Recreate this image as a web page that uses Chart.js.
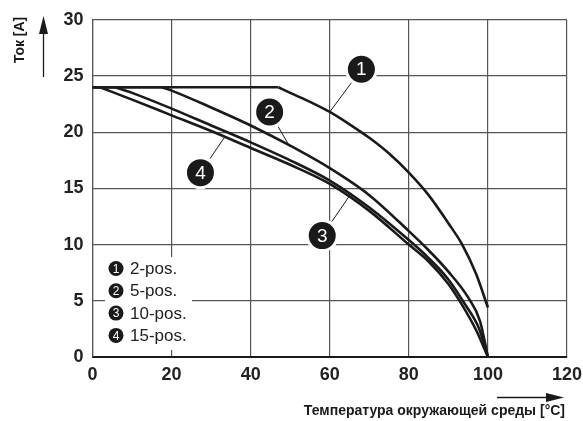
<!DOCTYPE html>
<html lang="ru">
<head>
<meta charset="UTF-8">
<title>Derating</title>
<script src="https://cdn.jsdelivr.net/npm/chart.js@4"></script>
<style>
    body { margin: 0; background: #fff; }
    #wrap { width: 583px; height: 421px; }
</style>
<script>
// curve 1: 2-pos.
var temp1 = [0, 47, 50, 55, 60, 65, 70, 75, 80, 85, 90, 93.5, 97, 100];
var amp1  = [24, 24, 23.5, 22.7, 21.8, 20.7, 19.5, 18.1, 16.4, 14.4, 11.9, 10.0, 7.4, 4.4];
// curve 2: 5-pos.
var temp2 = [0, 17.5, 20, 30, 40, 50, 60, 70, 80, 85, 90, 95, 98, 100];
var amp2  = [24, 24, 23.7, 22.2, 20.6, 18.8, 16.8, 14.4, 11.2, 9.5, 7.6, 5.3, 3.2, 0];
// curve 3: 10-pos.
var temp3 = [0, 5.7, 10, 20, 30, 40, 50, 60, 70, 80, 85, 90, 94, 97.8, 100];
var amp3  = [24, 24, 23.5, 22.1, 20.6, 19.1, 17.5, 15.7, 13.3, 10.4, 8.8, 6.9, 4.8, 2.5, 0];
// curve 4: 15-pos.
var temp4 = [0, 1.9, 10, 20, 30, 40, 50, 60, 70, 80, 85, 90, 93, 97, 100];
var amp4  = [24, 24, 22.9, 21.5, 20.1, 18.6, 17.1, 15.4, 13.0, 10.0, 8.5, 6.5, 4.9, 2.4, 0];

var legendNames = ['2-pos.', '5-pos.', '10-pos.', '15-pos.'];
var xTitle = 'Температура окружающей среды [°C]';
var yTitle = 'Ток [A]';

// numbered callouts, in data units: circle centre and point on the curve
var calloutAt = [[68.0, 25.6], [44.8, 21.8], [58.1, 10.8], [27.3, 16.4]];
var calloutTo = [[60, 21.8], [49.9, 18.7], [65.5, 14.6], [33.5, 19.6]];

function pts(xs, ys) {
    var out = [];
    for (var i = 0; i < xs.length; i++) out.push({x: xs[i], y: ys[i]});
    return out;
}

var FONT = '"Liberation Sans", Arial, Helvetica, sans-serif';
var INK = '#1a1a1a';

function badge(ctx, x, y, r, txt, size) {
    ctx.fillStyle = INK;
    ctx.beginPath();
    ctx.arc(x, y, r, 0, Math.PI * 2);
    ctx.fill();
    ctx.fillStyle = '#fff';
    ctx.font = size + 'px ' + FONT;
    ctx.textAlign = 'center';
    ctx.textBaseline = 'middle';
    ctx.fillText(txt, x, y + 1);
}

var extras = {
    id: 'extras',
    afterDatasetsDraw: function(chart) {
        var ctx = chart.ctx;
        var xs = chart.scales.x, ys = chart.scales.y;
        ctx.save();

        // callouts
        for (var i = 0; i < calloutAt.length; i++) {
            var cx = xs.getPixelForValue(calloutAt[i][0]);
            var cy = ys.getPixelForValue(calloutAt[i][1]);
            var tx = xs.getPixelForValue(calloutTo[i][0]);
            var ty = ys.getPixelForValue(calloutTo[i][1]);
            var d = Math.hypot(tx - cx, ty - cy);
            ctx.strokeStyle = INK;
            ctx.lineWidth = 1;
            ctx.beginPath();
            ctx.moveTo(cx + (tx - cx) * 17 / d, cy + (ty - cy) * 17 / d);
            ctx.lineTo(tx, ty);
            ctx.stroke();
            ctx.fillStyle = '#fff';
            ctx.beginPath();
            ctx.arc(cx, cy, 16.5, 0, Math.PI * 2);
            ctx.fill();
            badge(ctx, cx, cy, 13.5, String(i + 1), 19);
        }

        // legend box
        ctx.fillStyle = '#fff';
        ctx.fillRect(105, 257, 87, 93);
        for (var j = 0; j < legendNames.length; j++) {
            var ly = 268.5 + j * 22.3;
            badge(ctx, 116, ly, 7.5, String(j + 1), 12);
            ctx.fillStyle = '#222';
            ctx.font = '17px ' + FONT;
            ctx.textAlign = 'left';
            ctx.textBaseline = 'middle';
            ctx.fillText(legendNames[j], 130, ly + 1);
        }

        // axis titles and arrows
        ctx.fillStyle = INK;
        ctx.strokeStyle = INK;
        ctx.font = 'bold 14px ' + FONT;
        ctx.textAlign = 'right';
        ctx.textBaseline = 'middle';
        ctx.fillText(xTitle, 565, 411);
        ctx.lineWidth = 1.3;
        ctx.beginPath();
        ctx.moveTo(497, 397.5);
        ctx.lineTo(550, 397.5);
        ctx.stroke();
        ctx.beginPath();
        ctx.moveTo(564, 397.5);
        ctx.lineTo(546, 393);
        ctx.lineTo(546, 402);
        ctx.closePath();
        ctx.fill();

        ctx.save();
        ctx.translate(20, 40);
        ctx.rotate(-Math.PI / 2);
        ctx.textAlign = 'center';
        ctx.fillText(yTitle, 0, 0);
        ctx.restore();
        ctx.beginPath();
        ctx.moveTo(43.5, 77);
        ctx.lineTo(43.5, 30);
        ctx.stroke();
        ctx.beginPath();
        ctx.moveTo(43.5, 16);
        ctx.lineTo(39, 34);
        ctx.lineTo(48, 34);
        ctx.closePath();
        ctx.fill();

        ctx.restore();
    }
};

function line(data, smooth) {
    return {
        data: data,
        showLine: true,
        borderColor: INK,
        borderWidth: 2.6,
        pointRadius: 0,
        cubicInterpolationMode: smooth ? 'monotone' : 'default',
        tension: 0,
        fill: false
    };
}

// each curve: straight flat part up to the knee, then a smooth fall
function curve(xs, ys) {
    var p = pts(xs, ys);
    return [line(p.slice(0, 2), false), line(p.slice(1), true)];
}

window.onload = function() {
    new Chart(document.getElementById('chart'), {
        type: 'scatter',
        data: {
            datasets: [].concat(
                curve(temp1, amp1),
                curve(temp2, amp2),
                curve(temp3, amp3),
                curve(temp4, amp4)
            )
        },
        options: {
            responsive: false,
            animation: false,
            events: [],
            layout: { padding: { left: 0, top: 17, right: 0, bottom: 0 } },
            plugins: { legend: { display: false }, tooltip: { enabled: false } },
            scales: {
                x: {
                    type: 'linear', min: 0, max: 120,
                    ticks: { stepSize: 20, color: '#222', padding: 7,
                             font: { family: FONT, size: 18, weight: 'bold' } },
                    grid: { color: '#555', lineWidth: 1.2, drawTicks: false },
                    border: { color: INK, width: 2 },
                    afterFit: function(s) { s.height = 64; s.paddingRight = 16; }
                },
                y: {
                    type: 'linear', min: 0, max: 30,
                    ticks: { stepSize: 5, color: '#222', padding: 9,
                             font: { family: FONT, size: 18, weight: 'bold' } },
                    grid: { color: '#555', lineWidth: 1.2, drawTicks: false },
                    border: { color: '#555', width: 1.2 },
                    afterFit: function(s) { s.width = 92.5; }
                }
            }
        },
        plugins: [extras]
    });
};
</script>
</head>
<body>
<div id="wrap"><canvas id="chart" width="583" height="421"></canvas></div>
</body>
</html>
